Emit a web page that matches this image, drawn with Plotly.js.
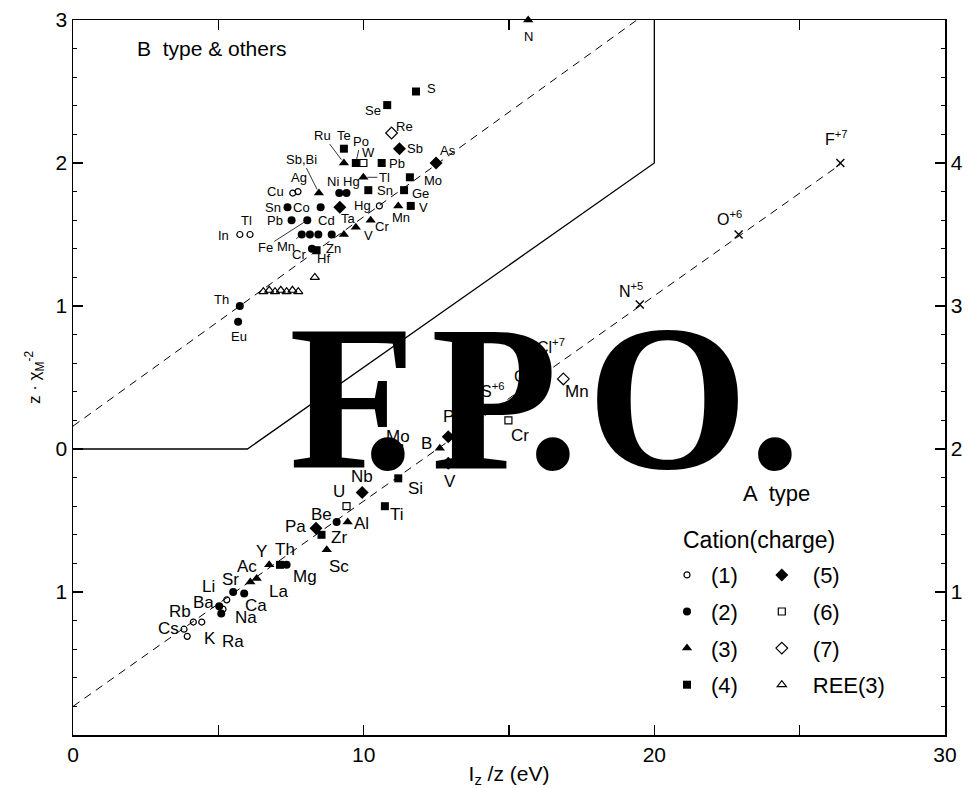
<!DOCTYPE html>
<html>
<head>
<meta charset="utf-8">
<script src="https://cdn.plot.ly/plotly-3.0.1.min.js"></script>
<style>
  html, body { margin: 0; padding: 0; background: #fff; }
  #chart { width: 971px; height: 788px; }
</style>
</head>
<body>
<div id="chart"></div>
<script>
// ---- cations, grouped by charge: name, I_z/z (eV), z·χ^-2 ----
const c1Name = ['Cu', 'Ag', 'In', 'Tl', 'Hg', 'Li', 'Na', 'Rb', 'K', 'Cs', ''];
const c1X = [7.56, 7.74, 5.74, 6.09, 10.54, 5.29, 5.16, 4.14, 4.43, 3.82, 3.93];
const c1Y = [1.79, 1.80, 1.50, 1.50, 1.70, -1.055, -1.12, -1.21, -1.21, -1.26, -1.31];

const c2Name = ['Ni', 'Hg', 'Sn', 'Co', 'Pb', 'Fe', 'Mn', '', 'Cd', 'Zn', 'Cr', 'Th', 'Eu', 'Be', 'Mg', 'Ca', 'Sr', 'Ba', 'Ra'];
const c2X = [9.16, 9.41, 7.38, 8.52, 7.52, 8.06, 7.87, 8.15, 8.44, 8.90, 8.22, 5.74, 5.68, 9.07, 7.35, 5.89, 5.51, 5.03, 5.10];
const c2Y = [1.79, 1.79, 1.69, 1.69, 1.60, 1.60, 1.50, 1.50, 1.50, 1.50, 1.40, 1.00, 0.89, -0.51, -0.81, -1.01, -1.00, -1.10, -1.15];

const c3Name = ['Ru', 'Tl', 'Sb,Bi', 'Mn', 'Cr', '', 'V', 'N', 'B', 'Al', 'Sc', 'Y', 'Ac', 'La'];
const c3X = [9.32, 9.99, 8.46, 11.19, 10.24, 9.32, 9.73, 15.66, 12.62, 9.45, 8.73, 6.75, 6.32, 6.10];
const c3Y = [2.00, 1.90, 1.79, 1.70, 1.60, 1.50, 1.55, 3.00, 0.005, -0.51, -0.705, -0.81, -0.905, -0.93];

const c4Name = ['S', 'Se', 'Te', 'Po', 'Pb', 'Mo', 'Ge', 'Sn', 'V', 'Hf', 'Si', 'Ti', 'Zr', 'Th'];
const c4X = [11.80, 10.81, 9.32, 9.73, 10.62, 11.59, 11.39, 10.16, 11.62, 8.38, 11.19, 10.73, 8.55, 7.12];
const c4Y = [2.50, 2.405, 2.10, 2.00, 2.00, 1.90, 1.81, 1.81, 1.70, 1.39, -0.205, -0.40, -0.60, -0.81];

const c5Name = ['Sb', 'As', 'Ta', 'P', 'V', 'Nb', 'Pa'];
const c5X = [11.23, 12.49, 9.18, 12.91, 12.91, 9.95, 8.36];
const c5Y = [2.10, 2.00, 1.69, 0.086, -0.10, -0.305, -0.555];

const c6Name = ['W', 'Mo', 'Cr', 'U'];
const c6X = [9.99, 11.22, 14.98, 9.41];
const c6Y = [2.00, 0.005, 0.20, -0.40];

const c7Name = ['Re', 'Mn'];
const c7X = [10.96, 16.87];
const c7Y = [2.21, 0.49];

const reeX = [8.32, 6.55, 6.75, 6.95, 7.15, 7.35, 7.55, 7.75];
const reeY = [1.20, 1.10, 1.11, 1.10, 1.11, 1.10, 1.11, 1.10];

// highest-valence light elements (x marks)
const hiName = ['S<sup>+6</sup>', 'C', 'Cl<sup>+7</sup>', 'N<sup>+5</sup>', 'O<sup>+6</sup>', 'F<sup>+7</sup>'];
const hiX = [14.63, 15.85, 16.29, 19.50, 22.90, 26.40];
const hiY = [0.27, 0.50, 0.53, 1.01, 1.50, 2.00];

// reference lines and the B / A boundary
const upperLineX = [0, 19.4];
const upperLineY = [0.16, 3.0];
const lowerLineX = [0, 26.4];
const lowerLineY = [-1.8, 1.99];
const boundaryX = [0, 6.0, 20, 20];
const boundaryY = [0, 0, 2, 3];

// axis tick labels
const xTickVals = [0, 10, 20, 30];
const yTickVals = [-1, 0, 1, 2, 3];
const yTickText = ['1', '0', '1', '2', '3'];
const y2TickVals = [1, 2, 3, 4];

// ---- label placement: pixel offset [dx, dy(up)], third item = leader line ----
const c1Lab = [[-17, 2], [1, 14], [-16, -1], [-4, 14], [-17, 0], [-18, 13], [23, -8], [-13, 11], [8, -16], [-16, 1], null];
const c2Lab = [[-6, 12], [5, 12], [-15, 0], [-19, 0], [-17, 0], [-42, -27, 1], [-16, -12, 1], null, [8, 14], [2, -14], [-13, -6], [-18, 7], [1, -15], [-15, 7], [18, -12], [12, -12], [-3, 13], [-16, 4], [12, -28]];
const c3Lab = [[-21, 28, 1], [21, 0, 1], [-17, 34, 1], [3, -12], [11, -6], null, [13, -8], [0, -16], [-13, 5], [14, -2], [12, -17], [-8, 13], [-10, 12], [28, -10]];
const c4Lab = [[16, 3], [-14, -5], [0, 13], [5, 22, 1], [15, 0], [23, -3], [16, -3], [17, 0], [13, -2], [7, -8], [17, -10], [12, -8], [17, -3], [5, 15]];
const c5Lab = [[16, 0], [12, 13], [9, -11], [0, 20], [2, -18], [0, 16], [-21, 2]];
const c6Lab = [[5, 11], [-1, 12], [12, -15], [-8, 15]];
const c7Lab = [[13, 6], [14, -13]];
const hiLab = [[-6, 20], [-14, 1], [4, 27], [-9, 15], [-9, 17], [-4, 25]];

const FONT = 'Liberation Sans, Arial, Helvetica, sans-serif';
const INK = '#000';

function markerTrace(name, xs, ys, symbol, size, legend, open) {
  return {
    type: 'scatter', mode: 'markers', name: name, x: xs, y: ys,
    legend: legend, legendgroup: name, cliponaxis: false, hoverinfo: 'skip',
    marker: {
      symbol: symbol, size: size, color: INK,
      line: { color: INK, width: open ? 1.2 : 0 }
    }
  };
}

const traces = [
  { type: 'scatter', mode: 'lines', x: upperLineX, y: upperLineY, showlegend: false, hoverinfo: 'skip',
    line: { color: INK, width: 1, dash: '8px,6px' } },
  { type: 'scatter', mode: 'lines', x: lowerLineX, y: lowerLineY, showlegend: false, hoverinfo: 'skip',
    line: { color: INK, width: 1, dash: '8px,6px' } },
  { type: 'scatter', mode: 'lines', x: boundaryX, y: boundaryY, showlegend: false, hoverinfo: 'skip',
    line: { color: INK, width: 1.3 } },
  markerTrace('(1)', c1X, c1Y, 'circle-open', 6, 'legend', true),
  markerTrace('(2)', c2X, c2Y, 'circle', 8, 'legend', false),
  markerTrace('(3)', c3X, c3Y, 'triangle-up', 9, 'legend', false),
  markerTrace('(4)', c4X, c4Y, 'square', 8, 'legend', false),
  markerTrace('(5)', c5X, c5Y, 'diamond', 10, 'legend2', false),
  markerTrace('(6)', c6X, c6Y, 'square-open', 7, 'legend2', true),
  markerTrace('(7)', c7X, c7Y, 'diamond-open', 9, 'legend2', true),
  markerTrace('REE(3)', reeX, reeY, 'triangle-up-open', 8, 'legend2', true),
  { type: 'scatter', mode: 'markers', x: hiX, y: hiY, showlegend: false, hoverinfo: 'skip', cliponaxis: false,
    marker: { symbol: 'x-thin-open', size: 8, color: INK, line: { color: INK, width: 1.4 } } },
  // carries the right-hand scale
  { type: 'scatter', mode: 'markers', x: [], y: [], yaxis: 'y2', showlegend: false, hoverinfo: 'skip' }
];

const annotations = [];
function addLabels(names, xs, ys, offs, sizeFor) {
  names.forEach((n, i) => {
    const o = offs[i];
    if (!n || !o) return;
    const a = {
      x: xs[i], y: ys[i], xref: 'x', yref: 'y', text: n,
      font: { family: FONT, size: sizeFor(ys[i]), color: INK },
      xanchor: 'center', yanchor: 'middle'
    };
    if (o[2]) {
      Object.assign(a, { showarrow: true, arrowhead: 0, arrowwidth: 0.8, arrowcolor: INK,
        ax: o[0], ay: -o[1], standoff: 4 });
    } else {
      Object.assign(a, { showarrow: false, xshift: o[0], yshift: o[1] });
    }
    annotations.push(a);
  });
}
const elemSize = (y) => (y > 0.8 ? 13 : 17);
addLabels(c1Name, c1X, c1Y, c1Lab, elemSize);
addLabels(c2Name, c2X, c2Y, c2Lab, elemSize);
addLabels(c3Name, c3X, c3Y, c3Lab, elemSize);
addLabels(c4Name, c4X, c4Y, c4Lab, elemSize);
addLabels(c5Name, c5X, c5Y, c5Lab, elemSize);
addLabels(c6Name, c6X, c6Y, c6Lab, elemSize);
addLabels(c7Name, c7X, c7Y, c7Lab, elemSize);
addLabels(hiName, hiX, hiY, hiLab, () => 16);

// region captions and the legend heading
annotations.push(
  { x: 4.78, y: 2.80, xref: 'x', yref: 'y', text: 'B  type &amp; others', showarrow: false,
    font: { family: FONT, size: 21, color: INK } },
  { x: 24.2, y: -0.31, xref: 'x', yref: 'y', text: 'A  type', showarrow: false,
    font: { family: FONT, size: 22, color: INK } },
  { x: 20.93, y: -0.636, xref: 'x', yref: 'y', text: 'Cation(charge)', showarrow: false,
    xanchor: 'left', font: { family: FONT, size: 23, color: INK } }
);

// large "F.P.O." stamp laid over the plot
const stamp = [['F', 352], ['.', 388], ['P', 494], ['.', 553], ['O', 667], ['.', 775]];
stamp.forEach(([ch, px]) => {
  annotations.push({
    xref: 'paper', yref: 'paper', x: (px - 73) / 872, y: 0.470,
    xanchor: 'center', yanchor: 'middle', showarrow: false, text: ch,
    font: { family: 'Liberation Serif, Times New Roman, serif', size: 207, weight: 'bold', color: '#000' }
  });
});

const axisCommon = {
  showgrid: false, zeroline: false, showline: true, linecolor: INK, linewidth: 1.5,
  ticks: 'inside', tickcolor: INK, tickwidth: 1.2, ticklen: 10,
  tickfont: { family: FONT, size: 21, color: INK }
};

const layout = {
  width: 971, height: 788,
  margin: { l: 73, r: 26, t: 20, b: 53 },
  paper_bgcolor: '#fff', plot_bgcolor: '#fff',
  font: { family: FONT, color: INK },
  xaxis: Object.assign({}, axisCommon, {
    range: [0, 30], tickvals: xTickVals, mirror: 'allticks',
    minor: { dtick: 5, ticks: 'inside', ticklen: 10, tickcolor: INK, tickwidth: 1.2 },
    title: { text: 'I<sub>z</sub> /z (eV)', font: { family: FONT, size: 21, color: INK }, standoff: 6 }
  }),
  yaxis: Object.assign({}, axisCommon, {
    range: [-2, 3], tickvals: yTickVals, ticktext: yTickText,
    minor: { dtick: 0.2, ticks: 'inside', ticklen: 4, tickcolor: INK, tickwidth: 1 },
    title: { text: 'z · χ<sub>M</sub><sup>-2</sup>', font: { family: FONT, size: 17, color: INK }, standoff: 10 }
  }),
  yaxis2: Object.assign({}, axisCommon, {
    overlaying: 'y', side: 'right', anchor: 'x', range: [0, 5], tickvals: y2TickVals,
    minor: { dtick: 0.2, ticks: 'inside', ticklen: 4, tickcolor: INK, tickwidth: 1 }
  }),
  legend: {
    x: 0.6766, xanchor: 'left', y: 0.253, yanchor: 'top', itemwidth: 38, tracegroupgap: 5,
    bgcolor: 'rgba(0,0,0,0)', borderwidth: 0, font: { family: FONT, size: 22, color: INK }
  },
  legend2: {
    x: 0.7773, xanchor: 'left', y: 0.253, yanchor: 'top', itemwidth: 52, tracegroupgap: 5,
    bgcolor: 'rgba(0,0,0,0)', borderwidth: 0, font: { family: FONT, size: 22, color: INK }
  },
  annotations: annotations,
  showlegend: true
};

Plotly.newPlot('chart', traces, layout, { staticPlot: true, displayModeBar: false });
</script>
</body>
</html>
